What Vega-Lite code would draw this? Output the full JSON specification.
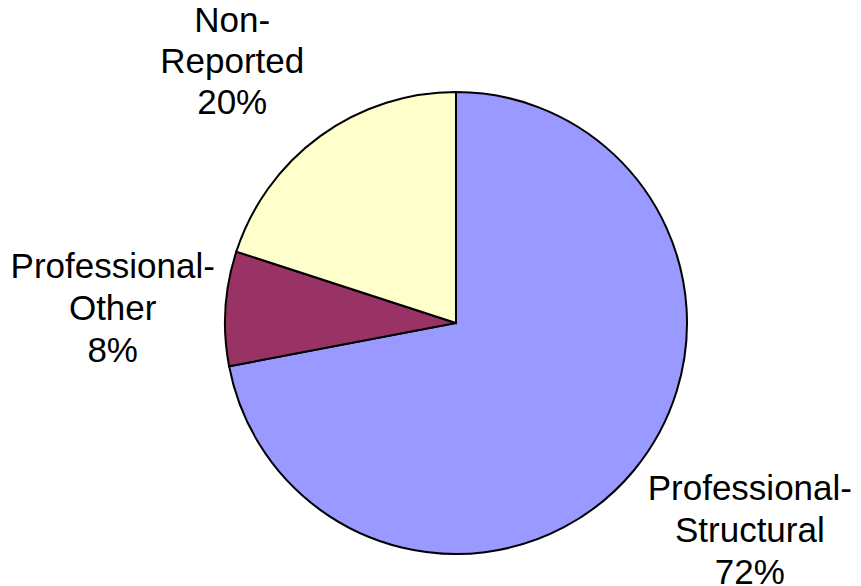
{
  "$schema": "https://vega.github.io/schema/vega-lite/v6.json",
  "width": 810,
  "height": 526,
  "padding": {"left": 51, "top": 60, "right": 0, "bottom": 0},
  "autosize": {"type": "none"},
  "background": "white",
  "config": {"view": {"stroke": null}},
  "data": {
    "values": [
      {"cat": "Professional-Structural", "value": 72, "rank": 1, "label": "Professional-\nStructural\n72%"},
      {"cat": "Professional-Other", "value": 8, "rank": 2, "label": "Professional-\nOther\n8%"},
      {"cat": "Non-Reported", "value": 20, "rank": 3, "label": "Non-\nReported\n20%"}
    ]
  },
  "encoding": {
    "theta": {"field": "value", "type": "quantitative", "stack": true},
    "order": {"field": "rank", "type": "quantitative"}
  },
  "layer": [
    {
      "mark": {"type": "arc", "outerRadius": 231, "stroke": "black", "strokeWidth": 2},
      "encoding": {
        "color": {
          "field": "cat",
          "type": "nominal",
          "scale": {
            "domain": ["Professional-Structural", "Professional-Other", "Non-Reported"],
            "range": ["#9999FF", "#993366", "#FFFFCC"]
          },
          "legend": null
        }
      }
    },
    {
      "mark": {"type": "text", "radius": 345, "dx": 28, "dy": -54, "font": "Liberation Sans", "fontSize": 35, "lineHeight": 42, "lineBreak": "\n", "align": "center", "baseline": "middle", "color": "black"},
      "encoding": {
        "text": {"condition": {"test": "datum.cat === 'Professional-Structural'", "field": "label"}, "value": ""}
      }
    },
    {
      "mark": {"type": "text", "radius": 345, "dx": 1, "dy": -34, "font": "Liberation Sans", "fontSize": 35, "lineHeight": 42, "lineBreak": "\n", "align": "center", "baseline": "middle", "color": "black"},
      "encoding": {
        "text": {"condition": {"test": "datum.cat === 'Professional-Other'", "field": "label"}, "value": ""}
      }
    },
    {
      "mark": {"type": "text", "radius": 345, "dx": -21, "dy": -23, "font": "Liberation Sans", "fontSize": 35, "lineHeight": 41, "lineBreak": "\n", "align": "center", "baseline": "middle", "color": "black"},
      "encoding": {
        "text": {"condition": {"test": "datum.cat === 'Non-Reported'", "field": "label"}, "value": ""}
      }
    }
  ]
}
